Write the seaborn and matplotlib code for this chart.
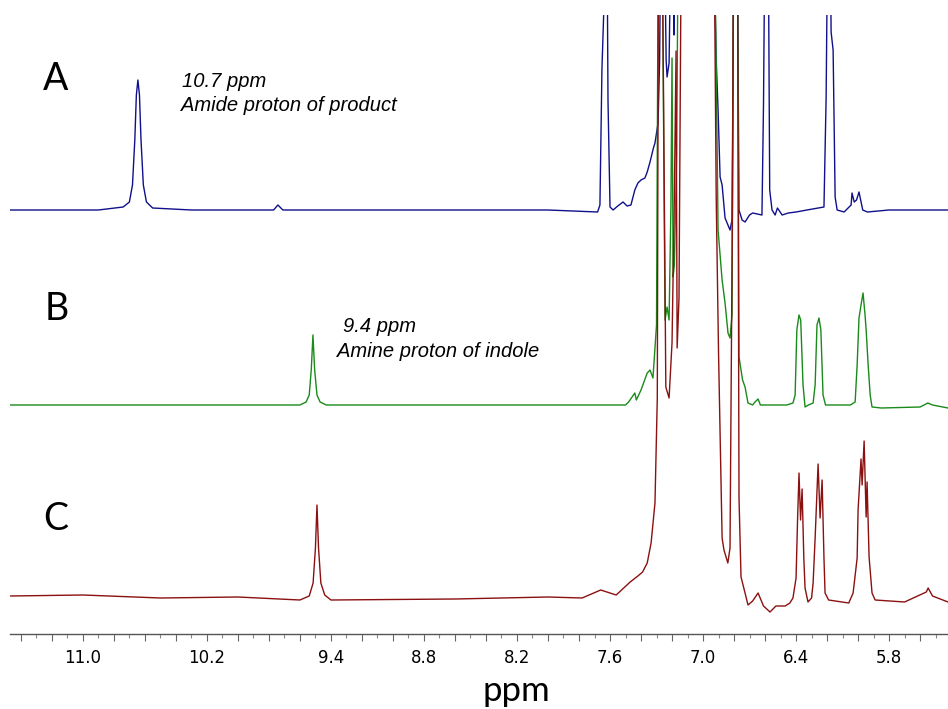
import matplotlib
matplotlib.use("Agg")
import matplotlib.pyplot as plt
import numpy as np
import pandas as pd
import seaborn as sns
from matplotlib.ticker import MultipleLocator

# (ppm, intensity above own baseline); values far above
# the frame stand for peaks that run off the top of the plot
spec_a = [(11.47, 0), (10.90, 0), (10.74, 3), (10.70, 8), (10.68, 25), (10.665, 70),
          (10.655, 115), (10.645, 130), (10.635, 115), (10.625, 70), (10.61, 25),
          (10.59, 8), (10.55, 2), (10.30, 0), (9.77, 0), (9.742, 5), (9.71, 0),
          (9.30, 0), (8.60, 0), (8.00, 0), (7.68, -2), (7.665, 5), (7.652, 141),
          (7.640, 200), (7.632, 300), (7.620, 300), (7.613, 110), (7.600, 3),
          (7.58, 0), (7.55, 4), (7.516, 8), (7.49, 4), (7.465, 5), (7.44, 20),
          (7.42, 27), (7.40, 30), (7.375, 32), (7.36, 38), (7.342, 48), (7.32, 62),
          (7.31, 67), (7.29, 87), (7.28, 150), (7.272, 300), (7.25, 300),
          (7.238, 150), (7.232, 133), (7.219, 147), (7.205, 300), (7.195, 300),
          (7.187, 175), (7.178, 300), (7.10, 300), (7.00, 300), (6.935, 300),
          (6.915, 150), (6.903, 100), (6.890, 33), (6.877, 25), (6.858, -8),
          (6.826, -20), (6.813, -10), (6.800, 300), (6.780, 300), (6.768, 0),
          (6.748, -10), (6.729, -12), (6.70, -5), (6.68, -3), (6.62, -5),
          (6.610, 105), (6.600, 300), (6.580, 300), (6.570, 20), (6.555, 0),
          (6.535, -5), (6.52, 2), (6.49, -5), (6.45, -3), (6.40, -2), (6.33, 0),
          (6.22, 3), (6.206, 113), (6.195, 300), (6.180, 300), (6.174, 178),
          (6.161, 160), (6.148, 13), (6.135, 0), (6.09, -2), (6.045, 5),
          (6.039, 17), (6.025, 8), (6.010, 10), (5.994, 18), (5.97, 0),
          (5.94, -2), (5.80, 0), (5.60, 0), (5.42, 0)]

spec_b = [(11.47, 0), (10.50, 0), (9.60, 0), (9.56, 3), (9.54, 10), (9.527, 35),
          (9.516, 70), (9.505, 35), (9.49, 10), (9.47, 3), (9.43, 0), (8.50, 0),
          (7.60, 0), (7.50, 0), (7.48, 3), (7.44, 12), (7.43, 5), (7.40, 15),
          (7.36, 32), (7.342, 35), (7.323, 27), (7.30, 80), (7.285, 600),
          (7.27, 600), (7.245, 85), (7.232, 98), (7.219, 85), (7.207, 200),
          (7.200, 347), (7.193, 128), (7.185, 140), (7.17, 250), (7.155, 600),
          (7.00, 600), (6.935, 600), (6.903, 175), (6.877, 125), (6.858, 102),
          (6.839, 72), (6.826, 67), (6.813, 90), (6.800, 600), (6.780, 600),
          (6.768, 48), (6.745, 25), (6.729, 18), (6.71, 2), (6.68, 0),
          (6.665, 3), (6.645, 6), (6.63, 0), (6.46, 0), (6.42, 2), (6.406, 10),
          (6.395, 75), (6.381, 90), (6.37, 85), (6.355, 20), (6.342, -2),
          (6.32, 0), (6.29, 2), (6.277, 20), (6.265, 80), (6.252, 87),
          (6.24, 75), (6.226, 10), (6.21, 0), (6.05, 0), (6.019, 3),
          (6.006, 40), (5.994, 87), (5.981, 100), (5.968, 112), (5.955, 90),
          (5.948, 75), (5.935, 40), (5.922, 10), (5.91, -2), (5.85, -3),
          (5.60, -2), (5.55, 2), (5.52, 0), (5.42, -3)]

spec_c = [(11.47, 2), (11.00, 3), (10.50, 0), (10.00, 1), (9.60, -2), (9.54, 2),
          (9.515, 15), (9.50, 50), (9.49, 93), (9.48, 50), (9.465, 15),
          (9.44, 3), (9.40, -2), (8.60, -1), (8.00, 1), (7.78, 0), (7.66, 8),
          (7.56, 3), (7.47, 16), (7.42, 22), (7.39, 26), (7.36, 35),
          (7.335, 55), (7.31, 95), (7.295, 200), (7.285, 800), (7.27, 800),
          (7.24, 211), (7.219, 200), (7.20, 255), (7.185, 400), (7.174, 547),
          (7.167, 250), (7.155, 300), (7.135, 800), (7.00, 800), (6.935, 800),
          (6.915, 400), (6.90, 245), (6.877, 60), (6.865, 48), (6.84, 35),
          (6.826, 50), (6.81, 400), (6.80, 800), (6.78, 800), (6.768, 100),
          (6.755, 21), (6.729, 5), (6.71, -7), (6.68, -3), (6.645, 5),
          (6.61, -8), (6.568, -14), (6.53, -8), (6.47, -8), (6.44, -5),
          (6.42, 0), (6.40, 20), (6.39, 80), (6.381, 125), (6.371, 78),
          (6.361, 109), (6.35, 40), (6.342, 10), (6.323, -4), (6.30, 0),
          (6.29, 15), (6.277, 60), (6.258, 134), (6.245, 80), (6.232, 118),
          (6.22, 40), (6.213, 5), (6.19, -2), (6.06, -5), (6.032, 5),
          (6.006, 40), (6.00, 88), (5.981, 139), (5.974, 113), (5.961, 157),
          (5.948, 81), (5.942, 116), (5.929, 41), (5.91, 5), (5.89, -2),
          (5.70, -4), (5.56, 6), (5.548, 10), (5.52, 2), (5.42, -4)]

tick_labels = ['11.0', '10.2', '9.4', '8.8', '8.2', '7.6', '7.0', '6.4', '5.8']
trace_names = ['A', 'B', 'C']
notes = {'A': ('10.7 ppm', 'Amide proton of product'),
         'B': ('9.4 ppm', 'Amine proton of indole')}

# stacking and styling
offsets = {'A': 424, 'B': 229, 'C': 36}
colors = {'A': '#10108c', 'B': '#1a8a1a', 'C': '#8b1010'}

frames = []
for name, spec in zip(trace_names, [spec_a, spec_b, spec_c]):
    d = pd.DataFrame(spec, columns=['ppm', 'intensity'])
    d['trace'] = name
    d['y'] = d['intensity'] + offsets[name]
    frames.append(d)
df = pd.concat(frames, ignore_index=True)

sns.set_style('white')
fig = plt.figure(figsize=(9.48, 7.09), dpi=100)
ax = fig.add_axes([10 / 948, 75 / 709, 938 / 948, 619 / 709])

for name in trace_names:
    sns.lineplot(data=df[df['trace'] == name], x='ppm', y='y', color=colors[name],
                 lw=1.0, sort=False, estimator=None, ax=ax)

ax.set_xlim(11.47, 5.42)
ax.set_ylim(0, 619)
ax.set_yticks([])
ax.set_xlabel('')
ax.set_ylabel('')
for s in ['top', 'left', 'right']:
    ax.spines[s].set_visible(False)
ax.spines['bottom'].set_color('#555555')
ax.spines['bottom'].set_linewidth(1.0)

major = np.round(np.arange(11.4, 5.45, -0.2), 1)
ax.set_xticks(major)
ax.set_xticklabels([f'{m:.1f}' if f'{m:.1f}' in tick_labels else '' for m in major])
ax.xaxis.set_minor_locator(MultipleLocator(0.1))
ax.tick_params(axis='x', which='major', bottom=True, length=5, width=0.8,
               color='#666666', pad=6, labelsize=12, labelcolor='black')
ax.tick_params(axis='x', which='minor', bottom=True, length=3, width=0.8,
               color='#888888')

# trace letters and peak notes
letter_pos = {'A': (11.258, 544), 'B': (11.245, 314), 'C': (11.258, 104)}
for name in trace_names:
    x, y = letter_pos[name]
    ax.text(x, y, name, fontsize=27, family='Lato', color='black',
            ha='left', va='baseline')

note_style = dict(fontsize=14.5, style='italic', family='Liberation Sans',
                  color='black', ha='left', va='baseline')
ax.text(10.361, 547, notes['A'][0], **note_style)
ax.text(10.368, 523, notes['A'][1], **note_style)
ax.text(9.323, 302, notes['B'][0], **note_style)
ax.text(9.361, 277, notes['B'][1], **note_style)

fig.text(516 / 948, 8 / 709, 'ppm', fontsize=25, family='Lato',
         ha='center', va='baseline', color='black')

fig.savefig('out.png', dpi=100)
